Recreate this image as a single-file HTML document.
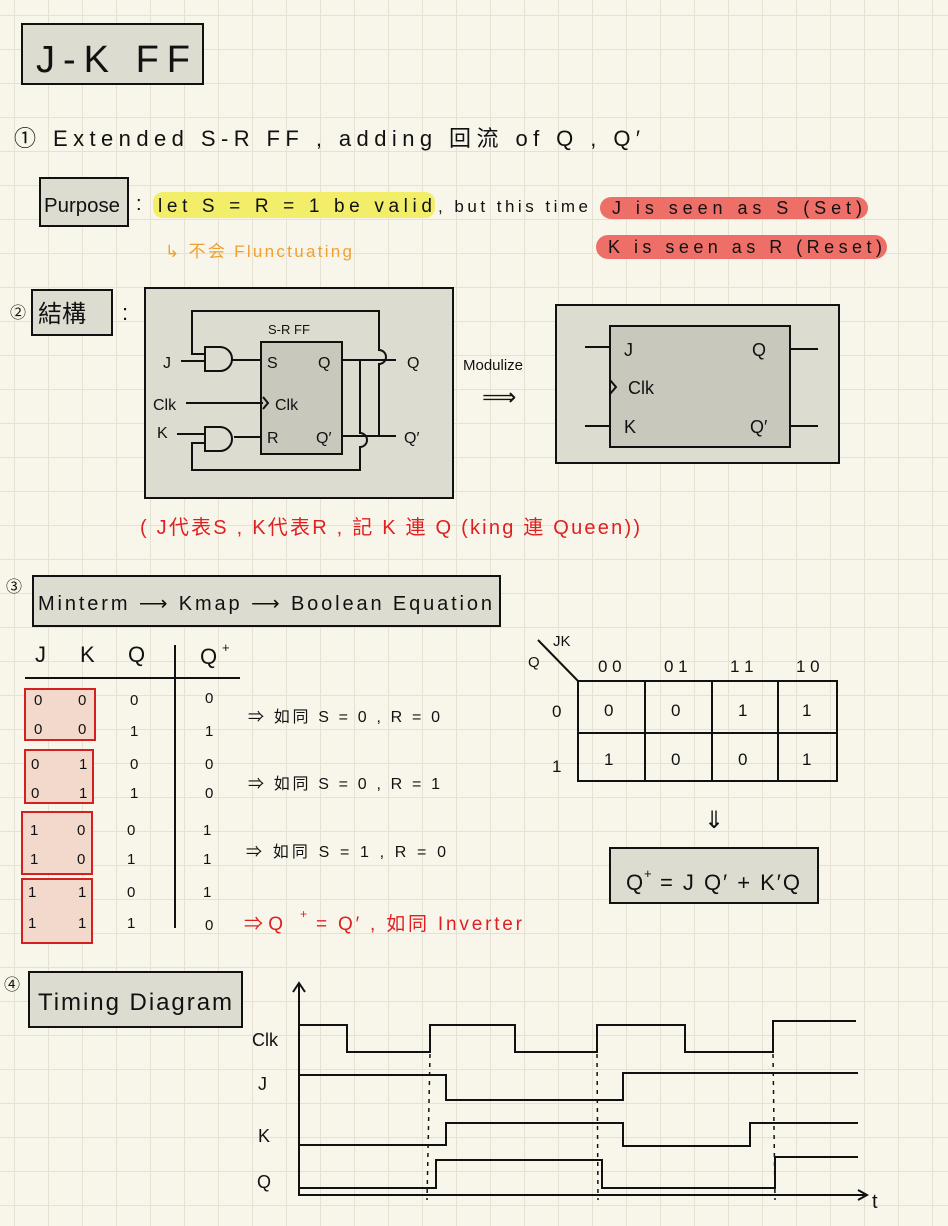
<!DOCTYPE html>
<html><head><meta charset="utf-8"><style>
html,body{margin:0;padding:0;background:#f8f6ea}
svg{display:block}
text{font-family:"Liberation Sans","Noto Sans CJK SC",sans-serif;fill:#111}
</style></head><body>
<svg width="948" height="1226" viewBox="0 0 948 1226" xmlns="http://www.w3.org/2000/svg">
<defs>
<pattern id="g" x="14" y="15" width="34" height="34" patternUnits="userSpaceOnUse">
<path d="M0 0H34M0 0V34" stroke="#e5e2d3" stroke-width="2" fill="none"/>
</pattern>
</defs>
<rect width="948" height="1226" fill="#f8f6ea"/>
<rect width="948" height="1226" fill="url(#g)"/>

<!-- title -->
<rect x="22" y="24" width="181" height="60" fill="#dcdcd0" stroke="#111" stroke-width="2"/>
<text x="36" y="72" font-size="38" textLength="154" lengthAdjust="spacing">J-K  FF</text>

<!-- 1 -->
<text x="14" y="146" font-size="22" textLength="626" lengthAdjust="spacing">①  Extended   S-R  FF ,  adding 回流 of  Q ,  Q′</text>
<rect x="40" y="178" width="88" height="48" fill="#dcdcd0" stroke="#111" stroke-width="2"/>
<text x="44" y="212" font-size="20" textLength="76" lengthAdjust="spacingAndGlyphs">Purpose</text>
<text x="136" y="210" font-size="20">:</text>
<rect x="153" y="192" width="282" height="26" rx="10" fill="#f2ee6a"/>
<text x="158" y="212" font-size="19" textLength="274" lengthAdjust="spacing">let   S = R = 1  be  valid</text>
<text x="438" y="212" font-size="17" textLength="150" lengthAdjust="spacing">, but  this  time</text>
<rect x="600" y="197" width="268" height="22" rx="11" fill="#ee6f68"/>
<text x="612" y="214" font-size="18" textLength="250" lengthAdjust="spacing">J  is  seen  as    S  (Set)</text>
<rect x="596" y="235" width="291" height="24" rx="12" fill="#ee6f68"/>
<text x="608" y="253" font-size="18" textLength="274" lengthAdjust="spacing">K  is  seen  as    R  (Reset)</text>
<text x="165" y="257" font-size="17" style="fill:#f0a030" textLength="187" lengthAdjust="spacing">↳ 不会 Flunctuating</text>

<!-- 2 -->
<text x="10" y="318" font-size="16">②</text>
<rect x="32" y="290" width="80" height="45" fill="#dcdcd0" stroke="#111" stroke-width="2"/>
<text x="38" y="322" font-size="24">結構</text>
<text x="122" y="320" font-size="22">:</text>

<rect x="145" y="288" width="308" height="210" fill="#dcdcd0" stroke="#111" stroke-width="2"/>
<g stroke="#111" stroke-width="2" fill="none">
<rect x="261" y="342" width="81" height="112" fill="#c9c8bc"/>
<path d="M205 347H220A12 12 0 0 1 220 371H205Z"/>
<path d="M205 427H220A12 12 0 0 1 220 451H205Z"/>
<path d="M181 361H205M232 360H261"/>
<path d="M177 434H205M234 437H261"/>
<path d="M186 403H263"/>
<path d="M263 397L268 403L263 409"/>
<path d="M205 354H192V311H379V350A7 7 0 0 1 379 364V436H342"/>
<path d="M342 360H396"/>
<path d="M379 436H396"/>
<path d="M205 443H192V470H360V447A7 7 0 0 0 360 433V360"/>
</g>
<text x="268" y="334" font-size="13">S-R FF</text>
<text x="163" y="368" font-size="16">J</text>
<text x="153" y="410" font-size="16">Clk</text>
<text x="157" y="438" font-size="16">K</text>
<text x="267" y="368" font-size="16">S</text>
<text x="318" y="368" font-size="16">Q</text>
<text x="275" y="410" font-size="16">Clk</text>
<text x="267" y="443" font-size="16">R</text>
<text x="316" y="443" font-size="16">Q′</text>
<text x="407" y="368" font-size="16">Q</text>
<text x="404" y="443" font-size="16">Q′</text>

<text x="463" y="370" font-size="15">Modulize</text>
<text x="482" y="405" font-size="24">⟹</text>

<rect x="556" y="305" width="283" height="158" fill="#dcdcd0" stroke="#111" stroke-width="2"/>
<rect x="610" y="326" width="180" height="121" fill="#c9c8bc" stroke="#111" stroke-width="2"/>
<g stroke="#111" stroke-width="2" fill="none">
<path d="M585 347H610M585 426H610M790 349H818M790 426H818"/>
<path d="M610 380L616 387L610 394"/>
</g>
<text x="624" y="356" font-size="18">J</text>
<text x="628" y="394" font-size="18">Clk</text>
<text x="624" y="433" font-size="18">K</text>
<text x="752" y="356" font-size="18">Q</text>
<text x="750" y="433" font-size="18">Q′</text>

<text x="140" y="534" font-size="20" style="fill:#e02020" textLength="500" lengthAdjust="spacing">( J代表S , K代表R , 記 K 連 Q  (king 連 Queen))</text>

<!-- 3 -->
<text x="6" y="592" font-size="16">③</text>
<rect x="33" y="576" width="467" height="50" fill="#dcdcd0" stroke="#111" stroke-width="2"/>
<text x="38" y="610" font-size="20" textLength="454" lengthAdjust="spacing">Minterm ⟶  Kmap ⟶  Boolean   Equation</text>

<text x="35" y="662" font-size="22">J</text>
<text x="80" y="662" font-size="22">K</text>
<text x="128" y="662" font-size="22">Q</text>
<text x="200" y="664" font-size="22">Q</text><text x="222" y="652" font-size="13">+</text>
<path d="M25 678H240M175 645V928" stroke="#111" stroke-width="2"/>
<g fill="#f3d9cc" stroke="#d42020" stroke-width="2">
<rect x="25" y="689" width="70" height="51"/>
<rect x="25" y="750" width="68" height="53"/>
<rect x="22" y="812" width="70" height="62"/>
<rect x="22" y="879" width="70" height="64"/>
</g>
<g font-size="15">
<text x="34" y="705">0</text><text x="78" y="705">0</text><text x="130" y="705">0</text><text x="205" y="703">0</text>
<text x="34" y="734">0</text><text x="78" y="734">0</text><text x="130" y="736">1</text><text x="205" y="736">1</text>
<text x="31" y="769">0</text><text x="79" y="769">1</text><text x="130" y="769">0</text><text x="205" y="769">0</text>
<text x="31" y="798">0</text><text x="79" y="798">1</text><text x="130" y="798">1</text><text x="205" y="798">0</text>
<text x="30" y="835">1</text><text x="77" y="835">0</text><text x="127" y="835">0</text><text x="203" y="835">1</text>
<text x="30" y="864">1</text><text x="77" y="864">0</text><text x="127" y="864">1</text><text x="203" y="864">1</text>
<text x="28" y="897">1</text><text x="78" y="897">1</text><text x="127" y="897">0</text><text x="203" y="897">1</text>
<text x="28" y="928">1</text><text x="78" y="928">1</text><text x="127" y="928">1</text><text x="205" y="930">0</text>
</g>
<text x="248" y="722" font-size="16" textLength="192" lengthAdjust="spacing">⇒ 如同  S = 0 ,  R = 0</text>
<text x="248" y="789" font-size="16" textLength="192" lengthAdjust="spacing">⇒ 如同  S = 0 ,  R = 1</text>
<text x="246" y="857" font-size="16" textLength="200" lengthAdjust="spacing">⇒ 如同  S = 1  ,  R = 0</text>
<text x="244" y="930" font-size="19" style="fill:#e02020">⇒  Q</text>
<text x="300" y="918" font-size="12" style="fill:#e02020">+</text>
<text x="316" y="930" font-size="19" style="fill:#e02020" textLength="206" lengthAdjust="spacing">=  Q′ ,  如同  Inverter</text>

<!-- kmap -->
<g stroke="#111" stroke-width="2" fill="none">
<rect x="578" y="681" width="259" height="100"/>
<path d="M645 681V781M712 681V781M778 681V781M578 733H837M538 640L578 681"/>
</g>
<text x="553" y="646" font-size="15">JK</text>
<text x="528" y="667" font-size="15">Q</text>
<g font-size="17">
<text x="598" y="672">0 0</text><text x="664" y="672">0 1</text><text x="730" y="672">1 1</text><text x="796" y="672">1 0</text>
<text x="552" y="717">0</text><text x="552" y="772">1</text>
<text x="604" y="716">0</text><text x="671" y="716">0</text><text x="738" y="716">1</text><text x="802" y="716">1</text>
<text x="604" y="765">1</text><text x="671" y="765">0</text><text x="738" y="765">0</text><text x="802" y="765">1</text>
</g>
<text x="704" y="828" font-size="24">⇓</text>
<rect x="610" y="848" width="208" height="55" fill="#dcdcd0" stroke="#111" stroke-width="2"/>
<text x="626" y="890" font-size="22">Q</text>
<text x="644" y="878" font-size="13">+</text>
<text x="660" y="890" font-size="22" textLength="140" lengthAdjust="spacing">= J Q′ + K′Q</text>

<!-- 4 -->
<text x="4" y="990" font-size="16">④</text>
<rect x="29" y="972" width="213" height="55" fill="#dcdcd0" stroke="#111" stroke-width="2"/>
<text x="38" y="1010" font-size="24" textLength="194" lengthAdjust="spacing">Timing   Diagram</text>

<g stroke="#111" stroke-width="2" fill="none">
<path d="M299 984V1195H866M293 992L299 983L305 992M858 1190L867 1195L858 1200"/>
<path d="M299 1025H347V1052H430V1025H515V1052H597V1025H685V1052H773V1021H856"/>
<path d="M299 1075H446V1100H623V1073H858"/>
<path d="M299 1145H446V1123H623V1146H750V1123H858"/>
<path d="M299 1188H436V1160H602V1188H775V1157H858"/>
<path d="M430 1054L427 1200M597 1054L598 1200M773 1054L775 1200" stroke-dasharray="4 5" stroke-width="1.5"/>
</g>
<text x="252" y="1046" font-size="18">Clk</text>
<text x="258" y="1090" font-size="18">J</text>
<text x="258" y="1142" font-size="18">K</text>
<text x="257" y="1188" font-size="18">Q</text>
<text x="872" y="1208" font-size="20">t</text>
</svg>
</body></html>
